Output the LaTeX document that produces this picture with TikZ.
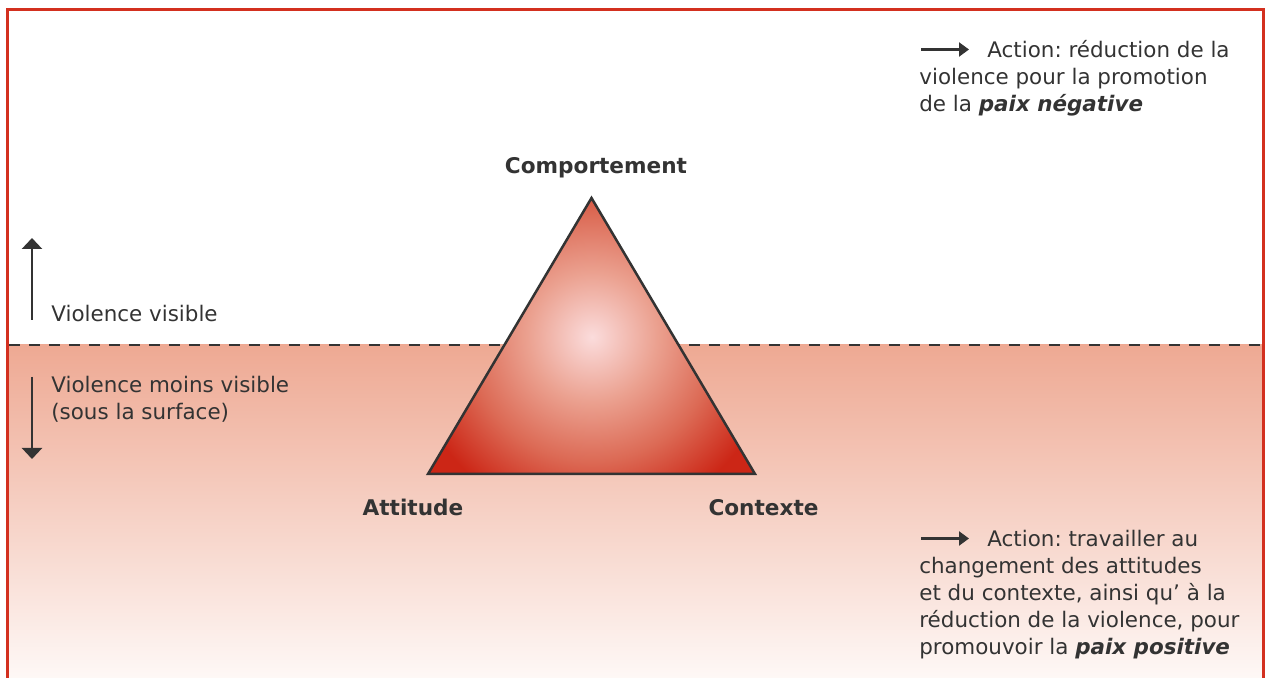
\documentclass[tikz,border=0pt]{standalone}
\usepackage{fontspec}
\setmainfont{DejaVu Sans}
\usepackage{xcolor}
\usepackage{tikz}
\usetikzlibrary{arrows.meta,positioning,calc}
\frenchspacing
\definecolor{framered}{HTML}{D3301F}
\definecolor{ink}{HTML}{333333}
\definecolor{seatop}{HTML}{EEA993}
\definecolor{seabottom}{HTML}{FEF8F6}
\definecolor{glowcore}{HTML}{FBDCDC}
\definecolor{glowsalmon}{HTML}{EBA190}
\definecolor{glowmid}{HTML}{DC6A55}
\definecolor{glowred}{HTML}{CC2616}
\pgfdeclareradialshading{triangle glow}{\pgfpoint{0bp}{0bp}}{color(0bp)=(glowcore); color(7bp)=(glowsalmon); color(13.5bp)=(glowmid); color(20bp)=(glowred); color(50bp)=(glowred)}
\tikzstyle{corner} = [font=\fontsize{12.3}{15.5}\selectfont\bfseries, text=ink, inner sep=0pt]
\tikzstyle{note} = [font=\fontsize{12.2}{15.5}\selectfont, text=ink, align=left, inner sep=0pt, anchor=base west]
\tikzstyle{level} = [-{Triangle[length=0.22cm,width=0.4cm]}, draw=ink, fill=ink, line width=0.05cm]
\tikzstyle{action} = [-{Triangle[length=0.2cm,width=0.28cm]}, draw=ink, fill=ink, line width=0.045cm]

\begin{document}
\begin{tikzpicture}[x=0.02cm, y=-0.02cm]
		\useasboundingbox (0,0) rectangle (1265,678);

		% below the surface
		\shade[top color=seatop, bottom color=seabottom] (9,345) rectangle (1262,678);
		\coordinate (surface left) at (9,345);
		\coordinate (surface right) at (1262,345);
		\draw[ink, line width=0.05cm, dash pattern=on 0.22cm off 0.18cm] (surface left) -- (surface right);

		% the triangle
		\coordinate (top) at (591.5,198);
		\coordinate (left corner) at (428,474);
		\coordinate (right corner) at (755,474);
		\begin{scope}
			\clip (top) -- (left corner) -- (right corner) -- cycle;
			\shade[shading=triangle glow] (592,337) circle (230);
		\end{scope}
		\draw[ink, line width=0.05cm, line join=miter] (top) -- (left corner) -- (right corner) -- cycle;

		\node[corner, above=0.48cm of top, anchor=base, xshift=0.09cm] (behaviour) {Comportement};
		\node[corner, below=0.84cm of left corner, anchor=base, xshift=-0.3cm] (attitude) {Attitude};
		\node[corner, below=0.84cm of right corner, anchor=base, xshift=0.17cm] (context) {Contexte};

		% visibility (notes sit on the baseline of their last line)
		\coordinate (up from) at (32,320);
		\coordinate (up to) at (32,238);
		\coordinate (down from) at (32,377);
		\coordinate (down to) at (32,459);
		\draw[level] (up from) -- (up to);
		\draw[level] (down from) -- (down to);
		\node[note] (visible) at (51,321.7) {Violence visible};
		\node[note] (hidden) at (51,419.5) {Violence moins visible\\(sous la surface)};

		% actions
		\node[note] (negative) at (919,112) {\hspace*{1.36cm}Action: réduction de la\\violence pour la promotion\\de la \textbf{\textit{paix négative}}};
		\node[note] (positive) at (919,655) {\hspace*{1.36cm}Action: travailler au\\changement des attitudes\\et du contexte, ainsi qu’ à la\\réduction de la violence, pour\\promouvoir la \textbf{\textit{paix positive}}};
		\coordinate (negative from) at (921,49.5);
		\coordinate (negative to) at (969,49.5);
		\coordinate (positive from) at (921,538.5);
		\coordinate (positive to) at (969,538.5);
		\draw[action] (negative from) -- (negative to);
		\draw[action] (positive from) -- (positive to);

		% frame
		\draw[framered, line width=0.06cm] (7.5,678) -- (7.5,9.5) -- (1263.5,9.5) -- (1263.5,678);
	\end{tikzpicture}
\end{document}
